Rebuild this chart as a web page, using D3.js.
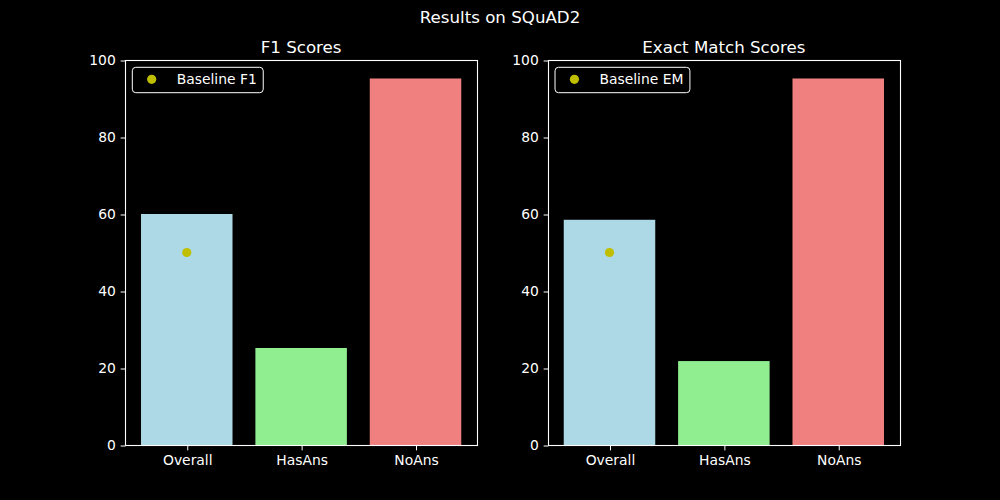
<!DOCTYPE html>
<html><head><meta charset="utf-8">
<script src="https://cdn.jsdelivr.net/npm/d3@7"></script>
<style>
html,body{margin:0;padding:0;background:#000;}
svg{display:block;font-family:"DejaVu Sans",sans-serif;}
</style></head>
<body><svg id="c" width="1000" height="500"></svg>
<script>
const categories = ["Overall", "HasAns", "NoAns"];
const f1Values = [60.0, 25.2, 95.2];
const emValues = [58.5, 21.8, 95.2];
const baselineF1 = 50.0;
const baselineEM = 50.0;
const barColors = ["#add8e6", "#90ee90", "#f08080"];
const yTicks = [0, 20, 40, 60, 80, 100];
const suptitle = "Results on SQuAD2";

(function(){
const svg = d3.select("#c");
svg.append("rect").attr("width",1000).attr("height",500).attr("fill","#000");

svg.append("text").attr("x",500).attr("y",22.5).attr("text-anchor","middle")
  .attr("fill","#fff").attr("font-size","16.67px").text(suptitle);

const axTop = 60, axBottom = 445;
const panelW = 352.27;
const panels = [
  {left:125, title:"F1 Scores", values:f1Values, baseline:baselineF1, label:"Baseline F1"},
  {left:547.73, title:"Exact Match Scores", values:emValues, baseline:baselineEM, label:"Baseline EM"}
];

panels.forEach(p => {
  const g = svg.append("g");
  const x = d3.scaleLinear().domain([-0.54, 2.54]).range([p.left, p.left+panelW]);
  const y = d3.scaleLinear().domain([0,100]).range([axBottom, axTop]);
  const bw = x(0.8) - x(0);

  g.selectAll("rect.bar").data(p.values).enter().append("rect")
    .attr("x",(d,i)=>x(i-0.4)).attr("width",bw)
    .attr("y",d=>y(d)).attr("height",d=>y(0)-y(d))
    .attr("fill",(d,i)=>barColors[i]);

  g.append("circle").attr("cx",x(0)).attr("cy",y(p.baseline)).attr("r",4.6).attr("fill","#bfbf00");

  const L = Math.round(p.left)+0.5, R = Math.round(p.left+panelW)+0.5;
  g.append("rect").attr("x",L).attr("y",axTop+0.5).attr("width",R-L).attr("height",axBottom-axTop)
    .attr("fill","none").attr("stroke","#fff").attr("stroke-width",1.1);

  const ya = g.append("g").attr("transform",`translate(${L},0.5)`)
    .call(d3.axisLeft(y).tickValues(yTicks).tickSize(4.86).tickPadding(4.86).tickFormat(d3.format("d")));
  ya.select(".domain").remove();
  ya.selectAll("line").attr("stroke","#fff").attr("stroke-width",1);
  ya.selectAll("text").attr("fill","#fff").attr("font-size","13.89px").attr("font-family","DejaVu Sans");

  const xa = g.append("g").attr("transform",`translate(0.5,${axBottom+0.5})`)
    .call(d3.axisBottom(x).tickValues([0,1,2]).tickSize(4.86).tickPadding(4.86).tickFormat(i=>categories[i]));
  xa.select(".domain").remove();
  xa.selectAll("line").attr("stroke","#fff").attr("stroke-width",1);
  xa.selectAll("text").attr("fill","#fff").attr("font-size","13.89px").attr("font-family","DejaVu Sans");

  g.append("text").attr("x",p.left+panelW/2).attr("y",axTop-7.5).attr("text-anchor","middle")
    .attr("fill","#fff").attr("font-size","16.67px").text(p.title);

  const lx = p.left+7.3, ly = axTop+7.3;
  const lg = g.append("g");
  const txt = lg.append("text").attr("x",lx+44.4).attr("y",ly+12+4.8)
    .attr("fill","#fff").attr("font-size","13.89px").text(p.label);
  const tw = txt.node().getComputedTextLength();
  lg.insert("rect","text").attr("x",lx).attr("y",ly).attr("width",44.4+tw+6.5).attr("height",25.4)
    .attr("rx",3.5).attr("fill","#000").attr("fill-opacity",0.8).attr("stroke","#fff").attr("stroke-width",1);
  lg.append("circle").attr("cx",lx+19.4).attr("cy",ly+12).attr("r",4.6).attr("fill","#bfbf00");
});
})();
</script></body></html>
